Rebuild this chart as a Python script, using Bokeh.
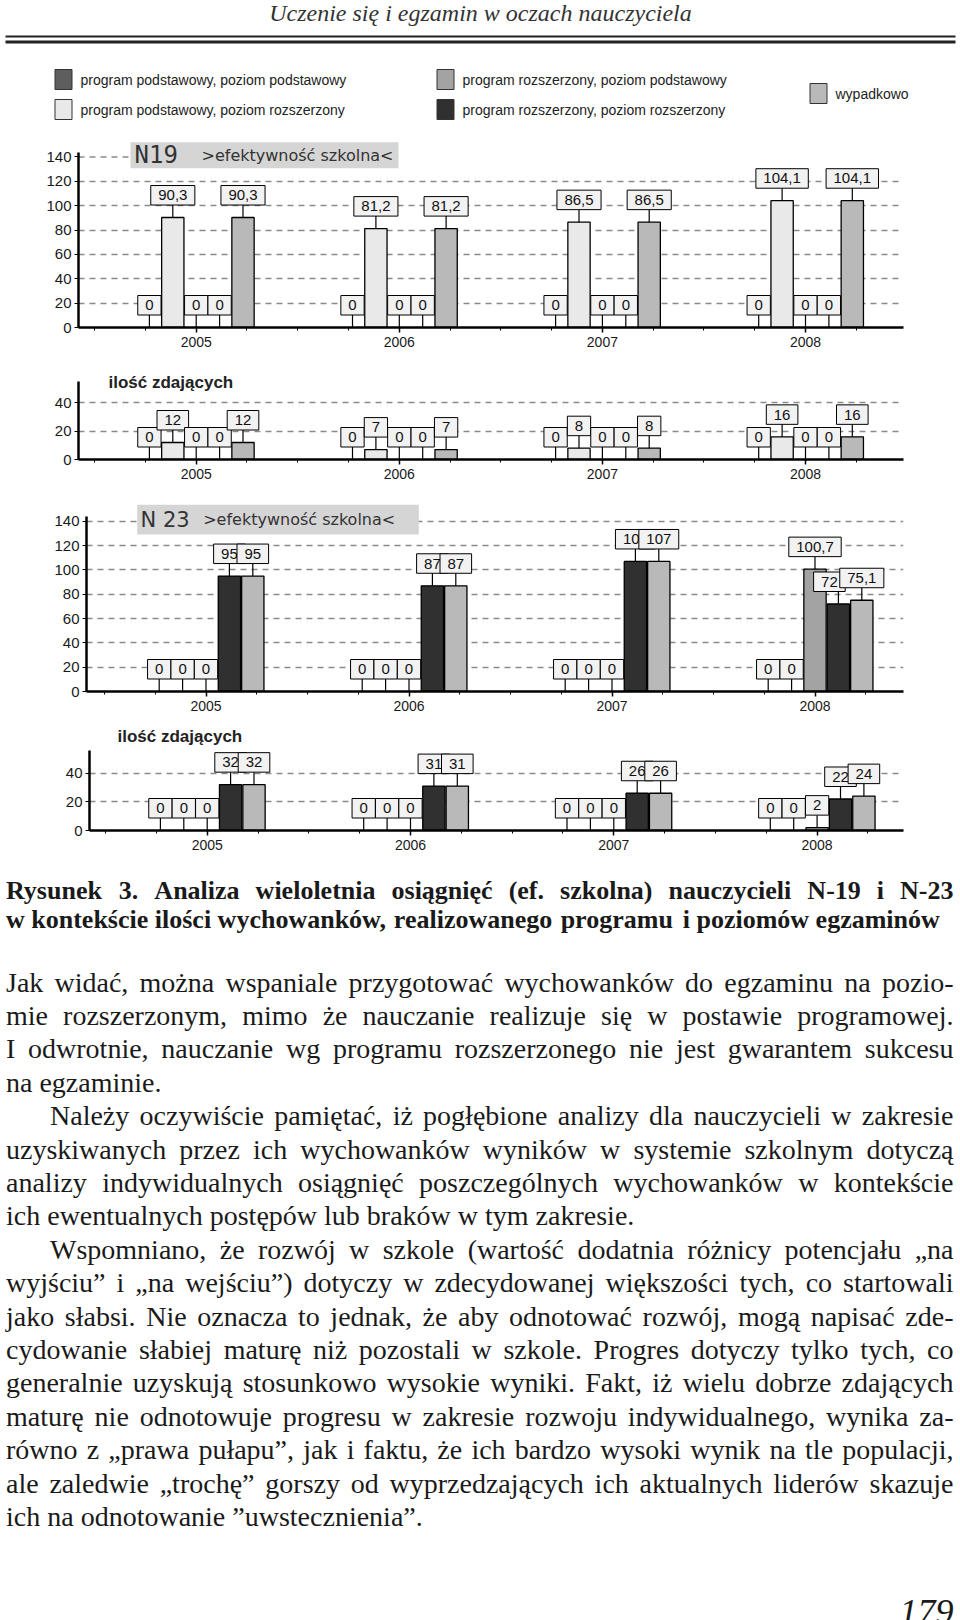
from bokeh.plotting import figure
from bokeh.models import Range1d, FixedTicker
from bokeh.layouts import column
from bokeh.embed import file_html
from bokeh.resources import INLINE
from bokeh.core.properties import value

# ---------------- data ----------------
years = [2005, 2006, 2007, 2008]
series_names = ["program podstawowy, poziom podstawowy",
                "program podstawowy, poziom rozszerzony",
                "program rozszerzony, poziom podstawowy",
                "program rozszerzony, poziom rozszerzony",
                "wypadkowo"]
series_colors = ["#5e5e5e", "#e9e9e9", "#a3a3a3", "#303030", "#b9b9b9"]

n19_eff_pp_pp = [0, 0, 0, 0]
n19_eff_pp_pr = [90.3, 81.2, 86.5, 104.1]
n19_eff_pr_pp = [0, 0, 0, 0]
n19_eff_pr_pr = [0, 0, 0, 0]
n19_eff_wyp = [90.3, 81.2, 86.5, 104.1]

n19_cnt_pp_pp = [0, 0, 0, 0]
n19_cnt_pp_pr = [12, 7, 8, 16]
n19_cnt_pr_pp = [0, 0, 0, 0]
n19_cnt_pr_pr = [0, 0, 0, 0]
n19_cnt_wyp = [12, 7, 8, 16]

n23_eff_pp_pp = [0, 0, 0, 0]
n23_eff_pp_pr = [0, 0, 0, 0]
n23_eff_pr_pp = [0, 0, 0, 100.7]
n23_eff_pr_pr = [95, 87, 107, 72]
n23_eff_wyp = [95, 87, 107, 75.1]

n23_cnt_pp_pp = [0, 0, 0, 0]
n23_cnt_pp_pr = [0, 0, 0, 0]
n23_cnt_pr_pp = [0, 0, 0, 2]
n23_cnt_pr_pr = [32, 31, 26, 22]
n23_cnt_wyp = [32, 31, 26, 24]

eff_ticks = [0, 20, 40, 60, 80, 100, 120, 140]
cnt_ticks = [0, 20, 40]

header_title = "Uczenie się i egzamin w oczach nauczyciela"
eff_title_n19 = "N19"
eff_title_n23 = "N 23"
eff_subtitle = ">efektywność szkolna<"
cnt_title = "ilość zdających"
caption_lines = [
    "Rysunek 3. Analiza wieloletnia osiągnięć (ef. szkolna) nauczycieli N-19 i N-23",
    "w kontekście ilości wychowanków, realizowanego programu i poziomów egzaminów",
]
# (text, indented, justified)
body_lines = [
    ("Jak widać, można wspaniale przygotować wychowanków do egzaminu na pozio-", False, True),
    ("mie rozszerzonym, mimo że nauczanie realizuje się w postawie programowej.", False, True),
    ("I odwrotnie, nauczanie wg programu rozszerzonego nie jest gwarantem sukcesu", False, True),
    ("na egzaminie.", False, False),
    ("Należy oczywiście pamiętać, iż pogłębione analizy dla nauczycieli w zakresie", True, True),
    ("uzyskiwanych przez ich wychowanków wyników w systemie szkolnym dotyczą", False, True),
    ("analizy indywidualnych osiągnięć poszczególnych wychowanków w kontekście", False, True),
    ("ich ewentualnych postępów lub braków w tym zakresie.", False, False),
    ("Wspomniano, że rozwój w szkole (wartość dodatnia różnicy potencjału „na", True, True),
    ("wyjściu” i „na wejściu”) dotyczy w zdecydowanej większości tych, co startowali", False, True),
    ("jako słabsi. Nie oznacza to jednak, że aby odnotować rozwój, mogą napisać zde-", False, True),
    ("cydowanie słabiej maturę niż pozostali w szkole. Progres dotyczy tylko tych, co", False, True),
    ("generalnie uzyskują stosunkowo wysokie wyniki. Fakt, iż wielu dobrze zdających", False, True),
    ("maturę nie odnotowuje progresu w zakresie rozwoju indywidualnego, wynika za-", False, True),
    ("równo z „prawa pułapu”, jak i faktu, że ich bardzo wysoki wynik na tle populacji,", False, True),
    ("ale zaledwie „trochę” gorszy od wyprzedzających ich aktualnych liderów skazuje", False, True),
    ("ich na odnotowanie ”uwstecznienia”.", False, False),
]
page_number = "179"

SANS = value("Liberation Sans")
SERIF = value("Liberation Serif")


def fmt(v):
    return str(int(v)) if float(v).is_integer() else ("%.1f" % v).replace(".", ",")


def label_w(s):
    return sum(4.2 if c == "," else 8.3 for c in s) + 15


def base_fig(w, h, xr, yr, **kw):
    p = figure(width=w, height=h, x_range=xr, y_range=yr, output_backend="svg",
               toolbar_location=None, background_fill_color="white",
               border_fill_color="white", outline_line_color=None, **kw)
    p.frame_align = False
    return p


# ---------------- header + legend ----------------
def make_header():
    p = base_fig(960, 130, Range1d(0, 960), Range1d(130, 0),
                 x_axis_location=None, y_axis_location=None, min_border=0)
    p.grid.visible = False
    p.text(x=[480], y=[12], text=[header_title], text_font=SERIF, text_font_style="italic",
           text_font_size="24px", text_align="center", text_baseline="alphabetic",
           text_color="#333333")
    p.segment(x0=[5], y0=[36], x1=[955], y1=[36], line_color="#222222", line_width=2)
    p.segment(x0=[5], y0=[41.5], x1=[955], y1=[41.5], line_color="#222222", line_width=3)
    pos = [(63, 79), (63, 109), (445, 79), (445, 109), (818, 93)]
    for (cx, cy), name, col in zip(pos, series_names, series_colors):
        p.rect(x=[cx], y=[cy], width=17, height=20, fill_color=col, line_color="#333333",
               line_width=1)
        p.text(x=[cx + 17], y=[cy], text=[name], text_font=SANS, text_font_size="14px",
               text_baseline="middle", text_align="left", text_color="#222222")
    return p


# ---------------- charts ----------------
def make_chart(series, top_px, h, left_px, year0_px, ppy, bt, bb, y_max, ticks, axis_top,
               grid_ticks, right_px=903, nudges=None):
    nudges = nudges or {}
    frame_h = h - bt - bb
    ppu = frame_h / y_max
    y0_page = top_px + bt + frame_h
    x0 = years[0] + (left_px - year0_px) / ppy
    x1 = years[0] + (right_px - year0_px) / ppy
    p = base_fig(960, h, Range1d(x0, x1), Range1d(0, y_max),
                 min_border_left=left_px, min_border_right=960 - right_px,
                 min_border_top=bt, min_border_bottom=bb)

    def px_x(px):
        return years[0] + (px - year0_px) / ppy

    def val_y(py):
        return (y0_page - py) / ppu

    minor = [y + q for y in [years[0] - 1] + years for q in (0.25, 0.5, 0.75)]
    minor = [m for m in minor if x0 < m < x1]
    xa = p.xaxis[0]
    xa.ticker = FixedTicker(ticks=years, minor_ticks=minor)
    xa.axis_line_width = 2.5
    xa.axis_line_color = "black"
    xa.major_tick_out = 5
    xa.major_tick_in = 0
    xa.minor_tick_out = 3
    xa.minor_tick_in = 0
    xa.major_tick_line_width = 1.5
    xa.major_label_standoff = 4
    xa.major_label_text_font = "Liberation Sans"
    xa.major_label_text_font_size = "14px"
    xa.major_label_text_color = "#1a1a1a"

    ya = p.yaxis[0]
    ya.ticker = FixedTicker(ticks=ticks, minor_ticks=[])
    ya.bounds = (0, axis_top)
    ya.axis_line_width = 2.5
    ya.axis_line_color = "black"
    ya.major_tick_out = 4
    ya.major_tick_in = 0
    ya.minor_tick_out = 0
    ya.minor_tick_in = 0
    ya.major_label_standoff = 3
    ya.major_label_text_font = "Liberation Sans"
    ya.major_label_text_font_size = "15px"
    ya.major_label_text_color = "#1a1a1a"

    p.xgrid.visible = False
    p.ygrid.ticker = FixedTicker(ticks=grid_ticks)
    p.ygrid.grid_line_dash = "6 5"
    p.ygrid.grid_line_color = "#8a8a8a"
    p.ygrid.grid_line_width = 1.3

    step = 23.4 / ppy
    bw = 22.3 / ppy
    n = len(series)
    # bars
    for i, vals in enumerate(series):
        xs = [yr + (i - (n - 1) / 2) * step for yr in years]
        bx = [x for x, v in zip(xs, vals) if v > 0]
        bt_ = [v for v in vals if v > 0]
        if bx:
            p.vbar(x=bx, top=bt_, width=bw, bottom=0, fill_color=series_colors[i],
                   line_color="black", line_width=1.3)
    # value labels
    gap, bh = 12.5, 19.5
    for i, vals in enumerate(series):
        xs = [yr + (i - (n - 1) / 2) * step for yr in years]
        lx = [x + nudges.get((i, j), 0) / ppy for j, x in enumerate(xs)]
        txt = [fmt(v) for v in vals]
        p.segment(x0=xs, y0=vals, x1=xs, y1=[v + gap / ppu for v in vals],
                  line_color="black", line_width=1.2)
        yc = [v + (gap + bh / 2) / ppu for v in vals]
        p.rect(x=lx, y=yc, width=[label_w(t) for t in txt], height=bh,
               width_units="screen", height_units="screen",
               fill_color="#f2f2f2", line_color="black", line_width=1)
        p.text(x=lx, y=yc, text=txt, text_font=SANS, text_font_size="15px",
               text_align="center", text_baseline="middle", text_color="#111111")
    return p, px_x, val_y


def eff_title(p, px_x, val_y, box, big, big_font, big_size, big_x, sub_x):
    bx0, bx1, by0, by1 = box
    yc = val_y((by0 + by1) / 2)
    p.rect(x=[px_x((bx0 + bx1) / 2)], y=[yc], width=[(px_x(bx1) - px_x(bx0))],
           height=by1 - by0, height_units="screen", fill_color="#d5d5d5", line_color=None)
    p.text(x=[px_x(big_x)], y=[yc], text=[big], text_font=value(big_font),
           text_font_size=big_size, text_baseline="middle", text_color="#333333")
    p.text(x=[px_x(sub_x)], y=[yc], text=[eff_subtitle], text_font=value("DejaVu Sans"),
           text_font_size="16px", text_baseline="middle", text_color="#333333")


# chart 1 : N19 efficiency
c1, c1x, c1y = make_chart([n19_eff_pp_pp, n19_eff_pp_pr, n19_eff_pr_pp, n19_eff_pr_pr, n19_eff_wyp],
                          130, 225, 78, 195.7, 203.1, 7, 28, 156, eff_ticks, 144, eff_ticks[1:-1])
c1.segment(x0=[c1.x_range.start], y0=[eff_ticks[-1]], x1=[c1x(130)], y1=[eff_ticks[-1]],
           line_color="#8a8a8a", line_width=1.3, line_dash="6 5")
eff_title(c1, c1x, c1y, (130, 398, 141.7, 167.7), eff_title_n19, "DejaVu Sans Mono", "24px", 134, 201)

# chart 2 : N19 counts
c2, c2x, c2y = make_chart([n19_cnt_pp_pp, n19_cnt_pp_pr, n19_cnt_pr_pp, n19_cnt_pr_pr, n19_cnt_wyp],
                          355, 140, 78, 195.7, 203.1, 12, 36, 65, cnt_ticks, 55, cnt_ticks[1:])
c2.text(x=[c2x(108)], y=[c2y(381.5)], text=[cnt_title], text_font=SANS, text_font_style="bold",
        text_font_size="17px", text_baseline="middle", text_color="#222222")

# chart 3 : N23 efficiency
c3, c3x, c3y = make_chart([n23_eff_pp_pp, n23_eff_pp_pr, n23_eff_pr_pp, n23_eff_pr_pr, n23_eff_wyp],
                          495, 223, 86, 205.5, 203.0, 4, 27, 158, eff_ticks, 144, eff_ticks[1:],
                          nudges={(3, 3): -9})
eff_title(c3, c3x, c3y, (136.7, 418.3, 504.3, 534), eff_title_n23, "DejaVu Sans", "21px", 140, 202.7)

# chart 4 : N23 counts
c4, c4x, c4y = make_chart([n23_cnt_pp_pp, n23_cnt_pp_pr, n23_cnt_pr_pp, n23_cnt_pr_pr, n23_cnt_wyp],
                          718, 142, 89, 206.7, 203.3, 6, 30, 74, cnt_ticks, 56, cnt_ticks[1:])
c4.text(x=[c4x(117)], y=[c4y(735.7)], text=[cnt_title], text_font=SANS, text_font_style="bold",
        text_font_size="17px", text_baseline="middle", text_color="#222222")

# ---------------- text block ----------------
PL = dict(zip("ąćęłńóśźżĄĆĘŁŃÓŚŹŻ", "acelnoszzACELNOSZZ"))


def table(groups):
    t = {}
    for chars, w in groups:
        for c in chars:
            t[c] = w / 1000.0
    return t


REG = table([("ijlt", 278), ("fr()-", 333), ("s", 389), ("acez„”\"", 444),
             ("bdghknopquvxy0123456789", 500), ("m", 778), ("w", 722), (" ,.", 250),
             ("I", 333), ("J", 389), ("FPS", 556), ("ELTZ", 611), ("BCR", 667),
             ("ADGHKNOQUVXY", 722), ("M", 889), ("W", 944)])
BOLD = table([("il", 278), ("tjf()-", 333), ("s", 389), ("cez", 444), ("agvxy0123456789", 500),
              ("bdhknpqu", 556), ("m", 833), ("w", 722), (" ,.", 250), ("I", 389),
              ("ANR", 722)])


def tw(s, tab, size):
    return sum(tab.get(PL.get(c, c), 0.5) for c in s) * size


def place(p, s, xl, xr, yb, tab, size, justify, style):
    words = s.split(" ")
    ws = [tw(w, tab, size) for w in words]
    if justify and len(words) > 1:
        g = max((xr - xl - sum(ws)) / (len(words) - 1), 0.12 * size)
    else:
        g = tab[" "] * size
    xs, x = [], xl
    for w in ws:
        xs.append(x)
        x += w + g
    p.text(x=xs, y=[yb] * len(words), text=words, text_font=SERIF, text_font_style=style,
           text_font_size="%dpx" % size, text_align="left", text_baseline="alphabetic",
           text_color="#1a1a1a")


def make_text():
    H = 760
    p = base_fig(960, H, Range1d(0, 960), Range1d(H, 0),
                 x_axis_location=None, y_axis_location=None, min_border=0)
    p.grid.visible = False
    top = 860
    left, right = 5.5, 953
    place(p, caption_lines[0], left, right, 890 - top, BOLD, 26, True, "bold")
    place(p, caption_lines[1], left, right, 919 - top, BOLD, 26, False, "bold")
    for k, (s, ind, just) in enumerate(body_lines):
        place(p, s, left + (44 if ind else 0), right, 981.5 + 33.4 * k - top, REG, 28, just, "normal")
    p.text(x=[953], y=[1611 - top], text=[page_number], text_font=SERIF, text_font_style="italic",
           text_font_size="36px", text_align="right", text_baseline="alphabetic",
           text_color="#1a1a1a")
    return p


layout = column(make_header(), c1, c2, c3, c4, make_text(), spacing=0)
open("out.html", "w").write(file_html(layout, INLINE))
